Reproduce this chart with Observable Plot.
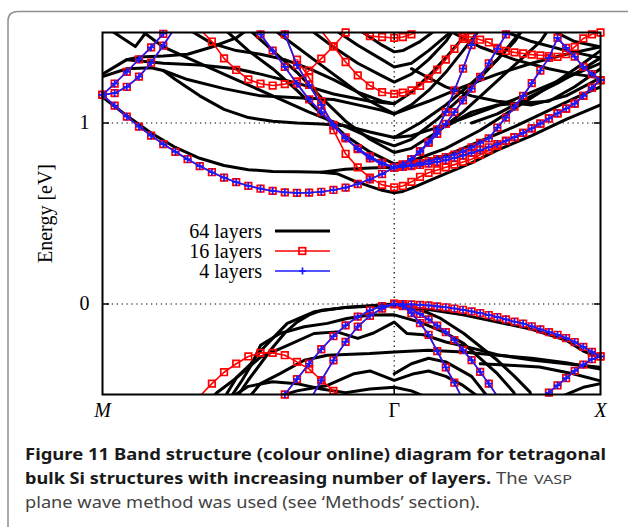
<!DOCTYPE html>
<html><head><meta charset="utf-8">
<script src="https://cdn.jsdelivr.net/npm/d3@7"></script>
<script src="https://cdn.jsdelivr.net/npm/@observablehq/plot@0.6"></script>
<style>
body{margin:0;background:#fff;}
#fig{position:relative;width:628px;height:527px;overflow:hidden;background:#fff;}
#chart{position:absolute;left:0;top:0;}
#cap{position:absolute;left:0;top:0;}
</style></head><body>
<div id="fig"><div id="chart"></div><svg id="cap" width="628" height="527"></svg></div>
<script>
// ---------- tick labels / legend ----------
const xTickIndex = [0, 24, 48];
const xTickLabels = ["M", "Γ", "X"];
const yTicks = [0, 1];
const seriesNames = ["64 layers", "16 layers", "4 layers"];
const yLabel = "Energy [eV]";

// k-point index (0..48) -> path distance (M–Γ = √2, Γ–X = 1)
function kpos(i) { return i <= 24 ? i / 24 * Math.SQRT2 : Math.SQRT2 + (i - 24) / 24; }

// ---------- 4 layers (blue), energies at consecutive k-points from `start` ----------
const bands4 = [
  {start: 0, e: [1.156,1.096,1.035,0.98,0.93,0.883,0.841,0.80,0.762,0.728,0.698,0.673,0.653,0.637,0.625,0.617,0.614,0.615,0.62,0.63,0.643,0.663,0.689,0.718,0.755,
                 0.757,0.762,0.768,0.776,0.785,0.795,0.807,0.82,0.835,0.85,0.866,0.883,0.902,0.922,0.945,0.97,0.996,1.025,1.053,1.08,1.107,1.15,1.195,1.237]},
  {start: 13, e: [1.49,1.40,1.31,1.217,1.13,1.06,0.985,0.915,0.86,0.815,0.78,0.755,
                  0.76,0.768,0.778,0.79,0.80,0.812,0.825,0.842,0.865,0.89,0.915,0.975,1.03,1.09,1.15,1.22,1.29,1.36,1.47,1.415,1.367,1.31,1.27,1.237]},
  {start: 15, e: [1.49,1.32,1.21,1.10,0.99,0.92,0.855,0.805,0.772,0.755,
                  0.77,0.80,0.84,0.89,0.94,0.995,1.06,1.125,1.19,1.255,1.33,1.41,1.49,1.57]},
  {start: 24, e: [0.755,0.77,0.80,0.845,0.895,0.965,1.06,1.18,1.30,1.43,1.56]},
  {start: 0, e: [1.156,1.165,1.20,1.256,1.333,1.428,1.53]},
  {start: 0, e: [1.156,1.218,1.283,1.352,1.418,1.493,1.57]},
  {start: 14, e: [-0.59,-0.50,-0.415,-0.33,-0.25,-0.178,-0.118,-0.07,-0.035,-0.012,0,
                  -0.001,-0.002,-0.005,-0.008,-0.013,-0.018,-0.025,-0.032,-0.041,-0.05,-0.061,-0.072,-0.085,-0.098,-0.108,-0.123,-0.14,-0.155,-0.17,-0.188,-0.21,-0.237,-0.265,-0.29]},
  {start: 17, e: [-0.54,-0.422,-0.311,-0.209,-0.125,-0.065,-0.025,0,
                  -0.012,-0.05,-0.105,-0.17,-0.26,-0.35,-0.435,-0.53]},
  {start: 24, e: [0,-0.01,-0.03,-0.055,-0.085,-0.12,-0.155,-0.2,-0.255,-0.31,-0.375,-0.44,-0.51]},
  {start: 41, e: [-0.53,-0.49,-0.45,-0.41,-0.37,-0.335,-0.305,-0.29]}
];

// ---------- 16 layers: extra bands (red), besides the 4-layer ones ----------
const bands16extra = [
  {start: 8, e: [-0.51,-0.44,-0.377,-0.33,-0.29,-0.27,-0.27,-0.283,-0.32,-0.36,-0.42,-0.48,-0.54]},
  {start: 16, e: [1.35,1.25,1.12,0.96,0.83,0.755,0.698,0.658,0.645,
                  0.652,0.675,0.703,0.725,0.74,0.755,0.77,0.785,0.80,0.825,0.85,0.874,0.90,0.922,0.945,0.97,0.996,1.025,1.053,1.08,1.107,1.15,1.195,1.237]},
  {start: 18, e: [1.51,1.424,1.337,1.263,1.207,1.17,1.161,1.168,1.18,1.205,1.245,1.295,1.35,1.41,1.465,1.52]},
  {start: 8, e: [1.52,1.45,1.357,1.293,1.241,1.217,1.207,1.215,1.23,1.29,1.356,1.424,1.50]},
  {start: 31, e: [1.52,1.476,1.475,1.46,1.445,1.415,1.398,1.39,1.384,1.378,1.374,1.37,1.366,1.38,1.42,1.467,1.49,1.50]},
  {start: 21, e: [1.51,1.48,1.475,1.47,1.475,1.49,1.51]}
];

// ---------- 64 layers (black): [k-point index, energy] ----------
const bands64 = [
  [[0,1.143],[2,1.04],[4,0.945],[6,0.865],[8,0.805],[10,0.765],[12,0.742],[14,0.732],[16,0.73],[18,0.728],[19.3,0.72],[20.7,0.68],[22,0.65],[23,0.628],[24,0.615],[25,0.622],[26,0.64],[27,0.66],[28,0.68],[30,0.72],[33,0.78],[36,0.85],[40,0.93],[44,1.02],[48,1.1]],
  [[0,1.256],[2,1.3],[4,1.305],[5,1.29],[6,1.24],[8,1.15],[10,1.075],[12,1.03],[14,1.01],[16,1.0],[18,0.995],[20,0.985],[22,0.95],[24,0.92],[26,0.93],[30,0.99],[34,1.06],[38,1.13],[42,1.21],[46,1.29],[48,1.33]],
  [[0,1.27],[1,1.31],[2,1.35],[3,1.365],[5,1.37],[7,1.38],[9,1.42],[11,1.47],[12,1.52]],
  [[0.5,1.52],[2.7,1.422],[3.8,1.52]],
  [[7,1.52],[9,1.44],[11,1.4],[13,1.38],[15,1.35],[17,1.3],[19,1.24],[21,1.17],[23,1.12],[24,1.106],[26,1.17],[28,1.26],[30,1.36],[32,1.47],[33,1.52]],
  [[18,0.728],[20,0.745],[22,0.752],[24,0.755],[26,0.77],[30,0.82],[34,0.9],[38,0.98],[42,1.07],[46,1.16],[48,1.2]],
  [[10,1.52],[12,1.4],[14,1.3],[16,1.18],[18,1.05],[20,0.93],[22,0.84],[24,0.774],[26,0.79],[30,0.86],[34,0.96],[38,1.08],[42,1.2],[46,1.33],[48,1.4]],
  [[12,1.52],[14,1.4],[16,1.28],[18,1.14],[20,1.01],[22,0.91],[24,0.837],[26,0.86],[29,0.95],[32,1.06],[35,1.19],[38,1.32],[41,1.45],[42,1.52]],
  [[3,1.52],[5,1.42],[8,1.33],[11,1.24],[14,1.15],[17,1.06],[20,0.98],[22,0.92],[24,0.874],[26,0.91],[29,1.02],[32,1.15],[35,1.3],[38,1.45],[39,1.52]],
  [[14,1.52],[16,1.42],[18,1.32],[20,1.22],[22,1.12],[24,1.05],[26,1.1],[28,1.18],[30,1.28],[32,1.4],[34,1.52]],
  [[17,1.52],[19,1.42],[21,1.33],[23,1.26],[24,1.226],[26,1.27],[28,1.35],[30,1.45],[31,1.52]],
  [[19,1.52],[21,1.43],[23,1.35],[24,1.309],[26,1.33],[28,1.4],[30,1.48],[31,1.52]],
  [[21,1.52],[23,1.43],[24,1.393],[25,1.4],[27,1.45],[29,1.52]],
  [[5,1.29],[7,1.24],[10,1.19],[13,1.15],[16,1.14],[19,1.13],[21,1.1],[23,1.07],[24,1.05]],
  [[2,1.35],[5,1.33],[8,1.32],[11,1.3],[13,1.27],[16,1.22],[19,1.16],[22,1.12],[24,1.106]],
  [[30,1.52],[34,1.42],[38,1.35],[42,1.3],[45,1.27],[48,1.25]],
  [[36,1.52],[40,1.45],[44,1.4],[48,1.36]],
  [[33,1.0],[36,1.05],[40,1.15],[43,1.22],[46,1.3],[48,1.36]],
  [[42,1.52],[45,1.45],[48,1.42]],
  [[30,0.98],[33,1.06],[36,1.1],[39,1.11],[42,1.12],[45,1.2],[48,1.3]],
  [[24,0.92],[27,1.0],[30,1.1],[33,1.22],[36,1.35],[39,1.52]],
  [[24,1.05],[28,1.12],[32,1.2],[36,1.27],[40,1.33],[44,1.38],[48,1.42]],
  [[26,1.3],[28,1.25],[30,1.2],[33,1.15],[36,1.12],[40,1.1],[44,1.15],[48,1.25]],
  [[11,-0.52],[12,-0.42],[13,-0.33],[14,-0.24],[15,-0.16],[16,-0.1],[17,-0.06],[18,-0.035],[20,-0.02],[22,-0.012],[24,-0.01],[28,-0.03],[32,-0.06],[36,-0.1],[40,-0.14],[44,-0.2],[46,-0.26],[47,-0.28],[48,-0.29]],
  [[10.5,-0.52],[11.5,-0.42],[12.3,-0.33],[13,-0.228],[14.6,-0.163],[16.6,-0.126],[18.5,-0.107],[20.1,-0.08],[22,-0.061],[24,-0.06],[27,-0.1],[30,-0.16],[32.1,-0.219],[34,-0.3],[36,-0.385],[37.9,-0.487],[38.2,-0.52]],
  [[9,-0.52],[9.4,-0.49],[10.8,-0.42],[12.2,-0.33],[13,-0.26],[14,-0.19],[15.2,-0.107],[17.4,-0.043],[19.9,-0.019],[24,0],[26,-0.02],[28,-0.05],[29.4,-0.08],[32.1,-0.163],[34,-0.235],[36,-0.311],[38,-0.4],[39.8,-0.487],[40,-0.52]],
  [[10,-0.52],[11,-0.41],[13,-0.293],[15,-0.235],[17.4,-0.163],[19.3,-0.154],[21,-0.19],[22.3,-0.16],[24,-0.1],[25.5,-0.163],[27.4,-0.17],[30,-0.21],[32.5,-0.237],[36,-0.28],[40,-0.31],[44,-0.33],[48,-0.35]],
  [[12,-0.52],[13,-0.44],[14.6,-0.385],[16.6,-0.311],[18.5,-0.283],[22,-0.274],[24,-0.265],[28,-0.256],[32,-0.265],[36,-0.283],[40,-0.3],[44,-0.325],[48,-0.36]],
  [[14,-0.52],[16,-0.48],[18.5,-0.45],[20.7,-0.385],[22,-0.37],[24,-0.422],[26.3,-0.385],[28,-0.37],[30,-0.4],[32,-0.45],[34,-0.52]],
  [[10.5,-0.52],[12,-0.455],[14,-0.43],[16,-0.44],[18,-0.47],[20,-0.49],[22,-0.47],[24,-0.46],[26,-0.48],[28,-0.52]],
  [[24,-0.385],[26,-0.33],[28,-0.3],[30,-0.32],[33,-0.4],[35,-0.52]],
  [[34,-0.33],[38,-0.34],[40.9,-0.348],[44.8,-0.385],[48,-0.425]],
  [[43,-0.52],[46,-0.46],[48,-0.44]]
];

// ---------- build tables ----------
const rows64 = bands64.flatMap((b, j) => b.map(([i, e]) => ({band: "k" + j, k: kpos(i), e})));
const toRows = (bands, p) => bands.flatMap((b, j) => b.e.map((e, n) => ({band: p + j, k: kpos(b.start + n), e})));
const rows4 = toRows(bands4, "b");
const rows16 = toRows(bands4.concat(bands16extra), "r");
const inside = d => d.e >= -0.5 && d.e <= 1.5;
const xTicks = xTickIndex.map((idx, n) => ({k: kpos(idx), label: xTickLabels[n]}));
const latin = d => /[A-Za-z]/.test(d.label);

const RED = "#ff0000", BLUE = "#1a1aff";
const serif = "'Liberation Serif','Times New Roman',serif";

const plot = Plot.plot({
  width: 628, height: 420,
  marginLeft: 102, marginRight: 28, marginTop: 32, marginBottom: 26,
  x: {domain: [0, kpos(48)], axis: null},
  y: {domain: [-0.5, 1.5], axis: null},
  style: {fontFamily: serif, fontSize: "20px", color: "#000", background: "transparent", overflow: "visible"},
  marks: [
    Plot.ruleY(yTicks, {stroke: "#000", strokeWidth: 1.2, strokeDasharray: "1.3,3.6"}),
    Plot.ruleX([kpos(xTickIndex[1])], {stroke: "#000", strokeWidth: 1.2, strokeDasharray: "1.3,3.6"}),
    Plot.line(rows64, {x: "k", y: "e", z: "band", stroke: "#000", strokeWidth: 3, clip: true}),
    Plot.line(rows16, {x: "k", y: "e", z: "band", stroke: RED, strokeWidth: 1.6, clip: true}),
    Plot.dot(rows16.filter(inside), {x: "k", y: "e", symbol: "square", r: 3.7, stroke: RED, strokeWidth: 1.7, fill: "none"}),
    Plot.line(rows4, {x: "k", y: "e", z: "band", stroke: BLUE, strokeWidth: 1.6, clip: true}),
    Plot.dot(rows4.filter(inside), {x: "k", y: "e", symbol: "plus", r: 2.6, stroke: BLUE, strokeWidth: 1.7}),
    Plot.frame({stroke: "#000", strokeWidth: 2}),
    Plot.axisY(yTicks, {anchor: "left", tickSize: 0, tickPadding: 13, fontSize: 20, tickFormat: d => String(d), label: null}),
    Plot.axisY(yTicks, {anchor: "left", tickSize: -7, tickFormat: () => "", label: null, strokeWidth: 1.5}),
    Plot.axisY(yTicks, {anchor: "right", tickSize: -7, tickFormat: () => "", label: null, strokeWidth: 1.5}),
    Plot.axisX([kpos(xTickIndex[1])], {anchor: "bottom", tickSize: -7, tickFormat: () => "", label: null, strokeWidth: 1.5}),
    Plot.axisX([kpos(xTickIndex[1])], {anchor: "top", tickSize: -7, tickFormat: () => "", label: null, strokeWidth: 1.5}),
    Plot.text([yLabel], {frameAnchor: "left", rotate: -90, dx: -57, textAnchor: "middle", fontSize: 20}),
    Plot.text(xTicks.filter(latin), {x: "k", text: "label", frameAnchor: "bottom", dy: 22, fontSize: 20, fontStyle: "italic"}),
    Plot.text(xTicks.filter(d => !latin(d)), {x: "k", text: "label", frameAnchor: "bottom", dy: 22, fontSize: 20})
  ]
});
document.getElementById("chart").appendChild(plot);

// ---------- legend (inside frame) ----------
const svg = d3.select(plot);
const lg = svg.append("g").attr("font-family", serif).attr("font-size", 20);
const rowsY = [231, 251, 271];
const colors = ["#000", RED, BLUE];
seriesNames.forEach((name, n) => {
  const y = rowsY[n];
  lg.append("text").attr("x", 262).attr("y", y).attr("dy", "0.35em").attr("text-anchor", "end").attr("fill", "#000").text(name);
  lg.append("line").attr("x1", 275).attr("x2", 330).attr("y1", y).attr("y2", y)
    .attr("stroke", colors[n]).attr("stroke-width", n === 0 ? 3 : 1.6);
  if (n === 1) lg.append("rect").attr("x", 299).attr("y", y - 3.3).attr("width", 6.6).attr("height", 6.6)
    .attr("fill", "none").attr("stroke", RED).attr("stroke-width", 1.7);
  if (n === 2) lg.append("path").attr("d", `M${302.5-3.5},${y}h7M302.5,${y-3.5}v7`).attr("stroke", BLUE).attr("stroke-width", 1.7);
});

// ---------- caption and figure border ----------
const cap = d3.select("#cap");
cap.append("path").attr("d", "M8,540V21Q8,11.5,18,11.5H640").attr("fill", "none").attr("stroke", "#8f8f8f").attr("stroke-width", 1.5);
const sans = "'Noto Sans','Open Sans',sans-serif";
function capText(x, y, len, txt, weight, size, fill) {
  cap.append("text").attr("x", x).attr("y", y).attr("font-family", sans).attr("font-weight", weight)
    .attr("font-size", size).attr("fill", fill).attr("textLength", len).attr("lengthAdjust", "spacingAndGlyphs").text(txt);
}
capText(25, 460, 581, "Figure 11 Band structure (colour online) diagram for tetragonal", 700, 16.5, "#1a1a1a");
capText(25, 484, 466, "bulk Si structures with increasing number of layers.", 700, 16.5, "#1a1a1a");
capText(496, 484, 32, "The", 400, 16.5, "#444");
capText(534, 484, 38, "VASP", 400, 12.5, "#444");
capText(25, 508, 455, "plane wave method was used (see \u2018Methods\u2019 section).", 400, 16.5, "#444");
</script>
</body></html>
